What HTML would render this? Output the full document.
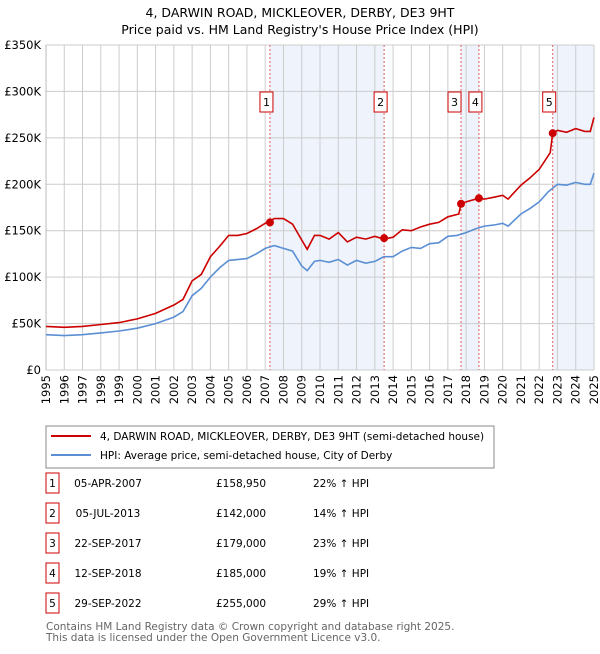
<!DOCTYPE html>
<html><head><meta charset="utf-8"><style>
body{margin:0;background:#fff;font-family:"DejaVu Sans","Liberation Sans",sans-serif;}
svg text{font-family:"DejaVu Sans","Liberation Sans",sans-serif;}
</style></head><body>
<svg width="600" height="650" xmlns="http://www.w3.org/2000/svg">
<text x="300" y="17" text-anchor="middle" font-size="12.5">4, DARWIN ROAD, MICKLEOVER, DERBY, DE3 9HT</text>
<text x="300" y="34" text-anchor="middle" font-size="12.5">Price paid vs. HM Land Registry's House Price Index (HPI)</text>
<g id="plot"></g>
<rect x="46" y="426" width="448" height="42" fill="#fff" stroke="#888"/>
<line x1="51" y1="436" x2="91" y2="436" stroke="#cc0000" stroke-width="2"/>
<text x="100" y="440" font-size="10.5">4, DARWIN ROAD, MICKLEOVER, DERBY, DE3 9HT (semi-detached house)</text>
<line x1="51" y1="455" x2="91" y2="455" stroke="#5b8fd4" stroke-width="2"/>
<text x="100" y="459" font-size="10.5">HPI: Average price, semi-detached house, City of Derby</text>
<g id="table"></g>
<text x="46" y="630" font-size="10.5" fill="#666">Contains HM Land Registry data © Crown copyright and database right 2025.</text>
<text x="46" y="641" font-size="10.5" fill="#666">This data is licensed under the Open Government Licence v3.0.</text>
</svg>
<script>
const hpiYears=[1995,1996,1997,1998,1999,2000,2001,2002,2002.5,2003,2003.5,2004,2004.5,2005,2006,2006.5,2007,2007.5,2008,2008.5,2009,2009.3,2009.7,2010,2010.5,2011,2011.5,2012,2012.5,2013,2013.5,2014,2014.5,2015,2015.5,2016,2016.5,2017,2017.5,2018,2018.5,2019,2019.5,2020,2020.3,2021,2021.5,2022,2022.5,2023,2023.5,2024,2024.5,2024.8,2025];
const hpiValues=[38,37,38,40,42,45,50,57,63,80,88,100,110,118,120,125,131,134,131,128,112,107,117,118,116,119,113,118,115,117,122,122,128,132,131,136,137,144,145,148,152,155,156,158,155,168,174,181,192,200,199,202,200,200,212];
const priceYears=[1995,1996,1997,1998,1999,2000,2001,2002,2002.5,2003,2003.5,2004,2004.5,2005,2005.5,2006,2006.5,2007,2007.5,2008,2008.5,2009,2009.3,2009.7,2010,2010.5,2011,2011.5,2012,2012.5,2013,2013.5,2014,2014.5,2015,2015.5,2016,2016.5,2017,2017.6,2017.72,2018,2018.7,2019,2019.5,2020,2020.3,2021,2021.5,2022,2022.6,2022.74,2023,2023.5,2024,2024.5,2024.8,2025];
const priceValues=[47,46,47,49,51,55,61,70,76,96,103,122,133,145,145,147,152,158,163,163,157,140,130,145,145,141,148,138,143,141,144,141,143,151,150,154,157,159,165,168,179,181,185,184,186,188,184,199,207,216,234,255,258,256,260,257,257,272];
const saleYears=[2007.26,2013.51,2017.72,2018.7,2022.74];
const saleValues=[158.95,142,179,185,255];
const saleLabels=["1","2","3","4","5"];
const saleDates=["05-APR-2007","05-JUL-2013","22-SEP-2017","12-SEP-2018","29-SEP-2022"];
const salePrices=["£158,950","£142,000","£179,000","£185,000","£255,000"];
const saleHpi=["22% ↑ HPI","14% ↑ HPI","23% ↑ HPI","19% ↑ HPI","29% ↑ HPI"];
const yTicks=[0,50,100,150,200,250,300,350];
const yTickLabels=["£0","£50K","£100K","£150K","£200K","£250K","£300K","£350K"];
const NS="http://www.w3.org/2000/svg";
const X0=46,X1=594,Y0=370,Y1=45;
const xs=y=>X0+(y-1995)/30*(X1-X0);
const ys=v=>Y0-v/350*(Y0-Y1);
function mk(tag,attrs,parent){const e=document.createElementNS(NS,tag);for(const k in attrs)e.setAttribute(k,attrs[k]);parent.appendChild(e);return e;}
const plot=document.getElementById('plot');
const shadeEnds=[saleYears[1],saleYears[3],2025];
const shadeStarts=[saleYears[0],saleYears[2],saleYears[4]];
for(let i=0;i<3;i++){const r=mk('rect',{x:xs(shadeStarts[i]),y:Y1,width:xs(shadeEnds[i])-xs(shadeStarts[i]),height:Y0-Y1,fill:'#eef3fc'},plot);

}
for(let y=1995;y<=2025;y++){const l=mk('line',{x1:xs(y),x2:xs(y),y1:Y1,y2:Y0,stroke:'#ccc'},plot);


const t=mk('text',{x:0,y:0,'font-size':11.5,'text-anchor':'end',transform:`translate(${xs(y)+4},${Y0+5}) rotate(-90)`},plot);
t.textContent=y;

}
yTicks.forEach((v,i)=>{const l=mk('line',{x1:X0,x2:X1,y1:ys(v),y2:ys(v),stroke:'#ccc'},plot);


const t=mk('text',{x:X0-5,y:ys(v)+4,'font-size':11.5,'text-anchor':'end'},plot);t.textContent=yTickLabels[i];

});
mk('line',{x1:X0,x2:X0,y1:Y1,y2:Y0,stroke:'#bbb'},plot);
saleYears.forEach((y,i)=>{const l=mk('line',{x1:xs(y),x2:xs(y),y1:Y1,y2:Y0,stroke:'#e06060','stroke-dasharray':'2,2'},plot);


const bx=xs(y)-10+(i==2?-3:0);
const r=mk('rect',{x:bx,y:92,width:13,height:20,fill:'#fff',stroke:'#cc0000'},plot);


const t=mk('text',{x:bx+6.5,y:106,'font-size':11,'text-anchor':'middle'},plot);t.textContent=saleLabels[i];

});
function path(xa,va,col,name){const d=xa.map((x,i)=>(i?'L':'M')+xs(x).toFixed(1)+','+ys(va[i]).toFixed(1)).join('');
const p=mk('path',{d:d,fill:'none',stroke:col,'stroke-width':1.6},plot);

}
path(hpiYears,hpiValues,'#5b8fd4','hpi-line');
path(priceYears,priceValues,'#cc0000','price-line');
saleYears.forEach((y,i)=>{const c=mk('circle',{cx:xs(y),cy:ys(saleValues[i]),r:4,fill:'#cc0000'},plot);

});
const tb=document.getElementById('table');
saleLabels.forEach((s,i)=>{const cy=483+i*30;
const r=mk('rect',{x:46,y:cy-10,width:13,height:20,fill:'#fff',stroke:'#cc0000'},tb);


const vals=[[52.5,s,'middle'],[108,saleDates[i],'middle'],[216,salePrices[i],'start'],[313,saleHpi[i],'start']];
vals.forEach(v=>{const t=mk('text',{x:v[0],y:cy+4,'font-size':10.5,'text-anchor':v[2]},tb);t.textContent=v[1];

});});
</script>
</body></html>
